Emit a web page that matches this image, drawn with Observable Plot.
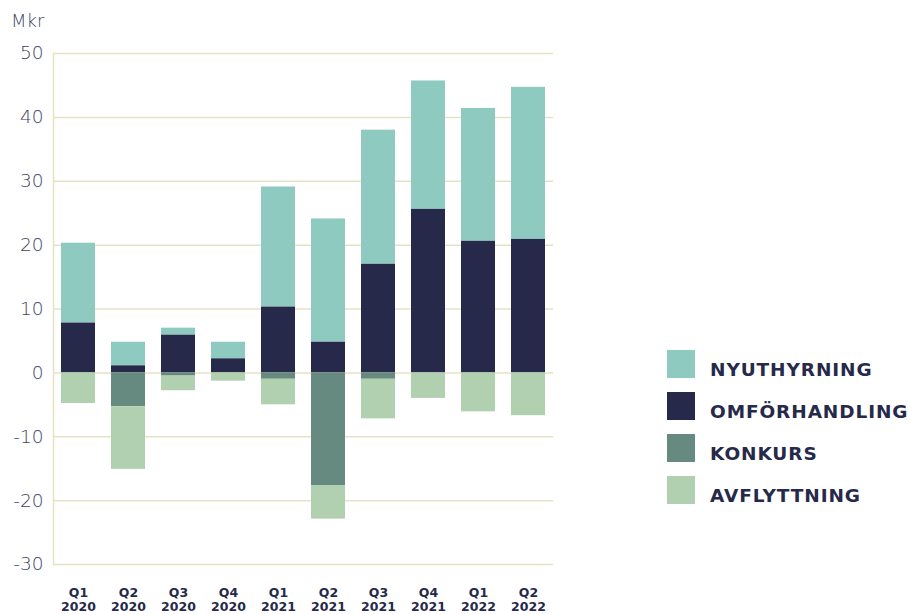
<!DOCTYPE html>
<html>
<head>
<meta charset="utf-8">
<script src="https://cdn.jsdelivr.net/npm/d3@7"></script>
<script src="https://cdn.jsdelivr.net/npm/@observablehq/plot@0.6"></script>
<style>
  body { margin: 0; background: #fff; }
  #wrap { position: relative; width: 910px; height: 614px; overflow: hidden; font-family: "DejaVu Sans", sans-serif; }
  #unit { position: absolute; left: 11px; top: 10px; font-family: "DejaVu Sans", sans-serif; font-weight: 200; font-size: 18px; color: #3e4260; }
  #legend { position: absolute; left: 667px; top: 350px; }
  .item { display: flex; align-items: flex-end; height: 28px; margin-bottom: 14px; }
  .sw { width: 28px; height: 28px; margin-right: 15px; }
  .lab { font-family: "DejaVu Sans", sans-serif; font-weight: bold; font-size: 18.5px; letter-spacing: 0.9px; color: #262949; line-height: 18px; margin-bottom: -1px; }
</style>
</head>
<body>
<div id="wrap">
  <div id="unit">Mkr</div>
  <div id="chart"></div>
  <div id="legend"></div>
</div>
<script>
const quarters = ["Q1\n2020","Q2\n2020","Q3\n2020","Q4\n2020","Q1\n2021","Q2\n2021","Q3\n2021","Q4\n2021","Q1\n2022","Q2\n2022"];
const nyuthyrning   = [12.5, 3.7, 1.1, 2.6, 18.8, 19.3, 21.0, 20.1, 20.8, 23.8];
const omforhandling = [7.8, 1.1, 5.9, 2.2, 10.3, 4.8, 17.0, 25.6, 20.6, 20.9];
const konkurs       = [0, -5.3, -0.5, 0, -1.0, -17.7, -1.0, 0, 0, 0];
const avflyttning   = [-4.8, -9.8, -2.3, -1.3, -4.0, -5.2, -6.2, -4.0, -6.1, -6.7];
const seriesNames = ["NYUTHYRNING","OMFÖRHANDLING","KONKURS","AVFLYTTNING"];
const seriesColors = ["#8fcac1","#262949","#668a80","#b1d0b0"];
const yTicks = [-30,-20,-10,0,10,20,30,40,50];

const seriesValues = [nyuthyrning, omforhandling, konkurs, avflyttning];
const data = [];
seriesNames.forEach((s, si) => quarters.forEach((q, qi) => data.push({quarter: q, series: s, value: seriesValues[si][qi]})));

const chart = Plot.plot({
  width: 910,
  height: 614,
  marginTop: 53,
  marginBottom: 50,
  marginLeft: 53,
  marginRight: 357,
  style: {fontFamily: "DejaVu Sans, sans-serif", background: "transparent"},
  x: {domain: quarters, paddingInner: 0.32, paddingOuter: 0.16, label: null},
  y: {domain: [-30, 50], ticks: yTicks, label: null},
  color: {domain: seriesNames, range: seriesColors},
  marks: [
    Plot.gridY(yTicks, {stroke: "#e6e2c6", strokeOpacity: 1, strokeWidth: 1.5}),
    Plot.frame({anchor: "left", stroke: "#e6e2c6", strokeWidth: 1.5}),
    Plot.axisY(yTicks, {tickSize: 0, tickPadding: 10, fontSize: 18.5, fill: "#3e4260", fontWeight: 200, fontFamily: "DejaVu Sans, sans-serif", tickFormat: d => String(d), label: null}),
    Plot.axisX({tickSize: 0, tickPadding: 22, fontSize: 12.5, fontWeight: "bold", fill: "#262949", lineHeight: 1.15, label: null}),
    Plot.barY(data, {x: "quarter", y: "value", fill: "series", order: ["OMFÖRHANDLING","NYUTHYRNING","KONKURS","AVFLYTTNING"]})
  ]
});
document.getElementById("chart").appendChild(chart);

const legend = document.getElementById("legend");
seriesNames.forEach((s, i) => {
  const item = document.createElement("div");
  item.className = "item";
  item.innerHTML = `<div class="sw" style="background:${seriesColors[i]}"></div><div class="lab">${s}</div>`;
  legend.appendChild(item);
});
</script>
</body>
</html>
